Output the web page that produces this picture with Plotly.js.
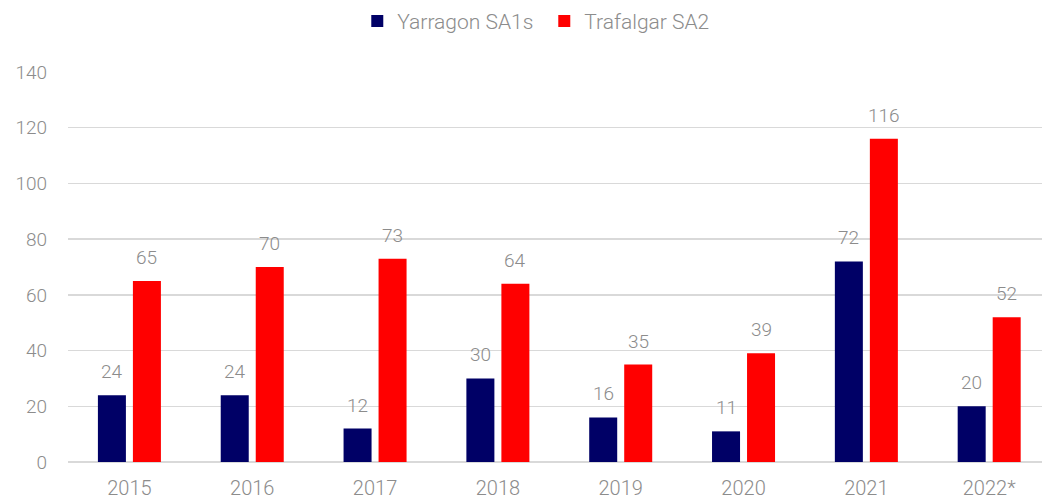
<!DOCTYPE html>
<html><head><meta charset="utf-8">
<script src="https://cdn.plot.ly/plotly-3.0.1.min.js"></script>
<style>html,body{margin:0;padding:0;background:#fff}#c{width:1042px;height:500px}</style>
</head><body><div id="c"></div>
<script>
const years = ['2015','2016','2017','2018','2019','2020','2021','2022*'];
const yarragon = [24,24,12,30,16,11,72,20];
const trafalgar = [65,70,73,64,35,39,116,52];
const seriesNames = ['Yarragon SA1s','Trafalgar SA2'];
const grey = '#8c8c8c';
const traces = [
  {type:'bar', name:seriesNames[0], x:years, y:yarragon, marker:{color:'#000066'}},
  {type:'bar', name:seriesNames[1], x:years, y:trafalgar, marker:{color:'#ff0000'}}
];
const ann = [];
const off = 17.5;
[yarragon, trafalgar].forEach((arr, si) => {
  arr.forEach((v, i) => ann.push({x:i, y:v, xref:'x', yref:'y', text:String(v), showarrow:false,
    yanchor:'bottom', yshift:10, xshift: si===0 ? -off : off, font:{family:'Roboto', size:19, color:grey, weight:300}}));
});
const layout = {
  width:1042, height:500,
  margin:{l:68, r:0, t:72, b:38},
  paper_bgcolor:'#fff', plot_bgcolor:'#fff',
  font:{family:'Roboto', color:grey, size:18, weight:300},
  barmode:'group', bargap:0.43, bargroupgap:0.2,
  showlegend:true,
  legend:{orientation:'h', x:0.297, xanchor:'left', y:1.13, yanchor:'middle', font:{size:21, color:grey, weight:300}, entrywidth:142, entrywidthmode:'pixels', itemwidth:30, traceorder:'normal'},
  xaxis:{type:'category', range:[-0.5,7.43], showgrid:false, zeroline:false, showline:false, ticks:'', tickfont:{size:20, color:grey, weight:300}, ticklabelstandoff:12},
  yaxis:{range:[0,140], dtick:20, showgrid:true, gridcolor:'#d9d9d9', gridwidth:1.5, zeroline:true, zerolinecolor:'#d9d9d9', zerolinewidth:1.5, showline:false, ticks:'', tickfont:{size:19, color:grey, weight:300}, ticklabelstandoff:20},
  annotations: ann
};
Plotly.newPlot('c', traces, layout, {displayModeBar:false, staticPlot:true});
</script></body></html>
